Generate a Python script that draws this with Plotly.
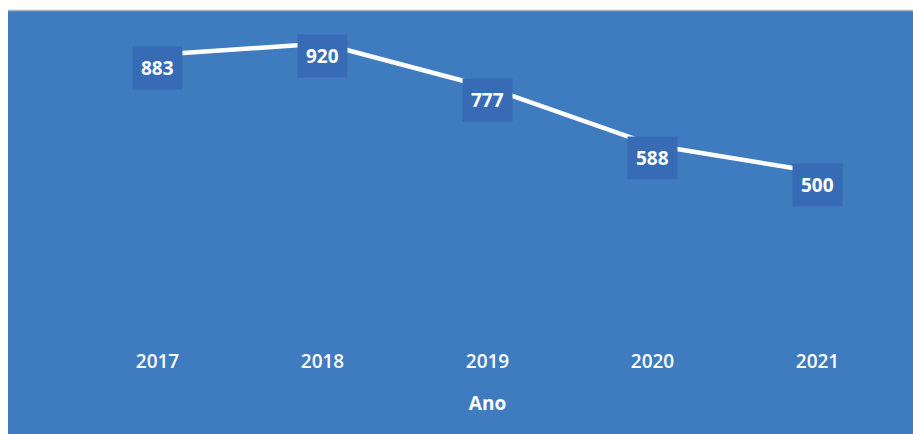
import plotly.graph_objects as go

anos = ["2017", "2018", "2019", "2020", "2021"]
valores = [883, 920, 777, 588, 500]

BG = "#3E7BBF"
BOX = "#386BB6"
FONT = "Open Sans"

fig = go.Figure()
fig.add_trace(go.Scatter(
    x=anos, y=valores, mode="lines",
    line=dict(color="white", width=4.5),
    hoverinfo="skip", showlegend=False,
))

for i, v in enumerate(valores):
    fig.add_annotation(
        x=i, y=v, text=f"<b>{v}</b>", showarrow=False,
        yshift=-13, bgcolor=BOX, borderpad=8,
        font=dict(family=FONT, size=19, color="white"),
    )

L, R, T, B = 75, 13, 19, 109
W, H = 913, 434
pw, ph = W - L - R, H - T - B

fig.add_shape(
    type="rect", xref="paper", yref="paper", layer="below",
    x0=(8 - L) / pw, x1=1 + (R + 2) / pw,
    y0=-(B + 2) / ph, y1=1 + (T - 10.5) / ph,
    fillcolor=BG, line=dict(width=0),
)
fig.add_shape(
    type="line", xref="paper", yref="paper",
    x0=(8 - L) / pw, x1=1 + (R + 2) / pw,
    y0=1 + (T - 10.5) / ph, y1=1 + (T - 10.5) / ph,
    line=dict(color="#A9B4C2", width=1.5),
)

fig.update_layout(
    width=W, height=H,
    margin=dict(l=L, r=R, t=T, b=B),
    paper_bgcolor="white",
    plot_bgcolor="rgba(0,0,0,0)",
    xaxis=dict(
        type="category", range=[-0.5, len(anos) - 0.5],
        showgrid=False, zeroline=False, showline=False,
        ticks="", tickfont=dict(family=FONT, size=19, color="white", weight=600),
        ticklabelstandoff=23,
        title=dict(text="<b>Ano</b>", font=dict(family=FONT, size=19, color="white"),
                   standoff=23),
    ),
    yaxis=dict(range=[0, 1000], visible=False, showgrid=False, zeroline=False),
)

fig.write_html("out.html")
